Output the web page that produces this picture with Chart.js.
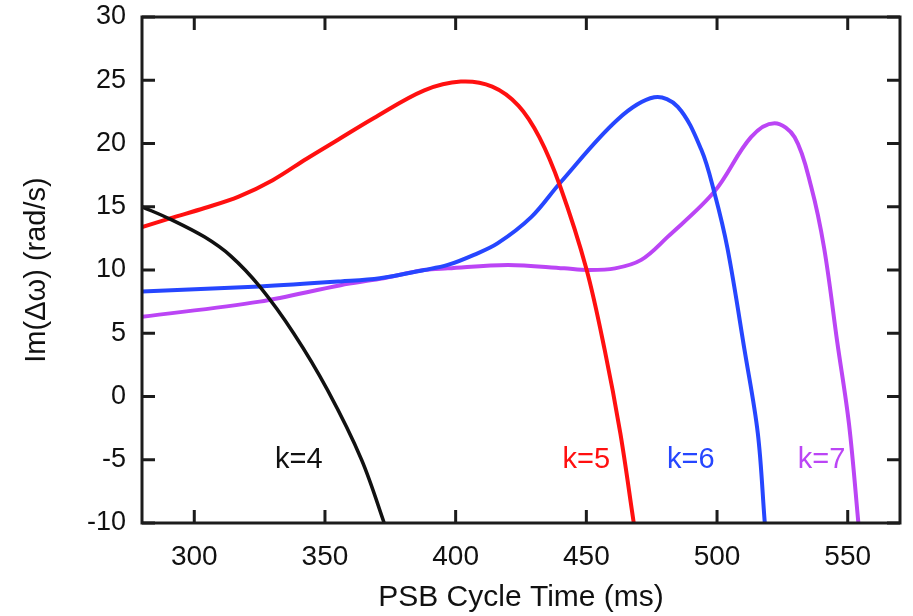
<!DOCTYPE html>
<html>
<head>
<meta charset="utf-8">
<script src="https://cdn.jsdelivr.net/npm/chart.js@4"></script>
<style>
  html, body { margin: 0; padding: 0; background: #fff; }
  canvas { display: block; }
</style>
</head>
<body>
<canvas id="growthChart" width="913" height="616"></canvas>
<script>
// PSB cycle time (ms) vs Im(dw) (rad/s), one curve per k
const k4Time = [280, 291, 304, 314, 325, 338, 351, 364, 373.5];
const k4Im   = [15.0, 14.0, 12.6, 11.1, 8.7, 5.0, 0.5, -5.0, -10.5];

const k5Time = [280, 291, 304, 317, 330, 343, 355, 368.6, 388, 402, 414, 424, 432, 440, 450, 457, 463, 468, 468.5];
const k5Im   = [13.4, 14.1, 14.9, 15.8, 17.1, 18.8, 20.3, 22.0, 24.2, 24.9, 24.5, 23.0, 20.5, 16.6, 10.1, 3.7, -2.9, -9.8, -10.5];

const k6Time = [280, 325, 356, 371, 388, 397, 407, 416, 429, 440, 462, 476, 485, 494, 499, 504, 510.5, 515.6, 518.2, 518.5];
const k6Im   = [8.3, 8.7, 9.1, 9.35, 10.0, 10.4, 11.2, 12.1, 14.2, 16.9, 21.9, 23.65, 22.9, 19.5, 16.1, 11.7, 3.7, -2.9, -9.8, -10.5];

const k7Time = [280, 325, 356, 371, 388, 397, 420, 441.5, 450.5, 461, 471, 481, 499, 513, 522, 529.7, 536, 541, 546, 550.5, 554.3];
const k7Im   = [6.3, 7.5, 8.8, 9.3, 10.0, 10.13, 10.4, 10.13, 10.0, 10.13, 10.8, 12.6, 16.2, 20.5, 21.6, 20.5, 16.6, 11.7, 4.3, -2.2, -10.5];

const xTicks = [300, 350, 400, 450, 500, 550];
const yTicks = [-10, -5, 0, 5, 10, 15, 20, 25, 30];

const curveNames = ['k=4', 'k=5', 'k=6', 'k=7'];
const curveLabelTime = [340, 450, 490, 540];
const curveLabelIm = -5;

const colors = ['#111111', '#ff1010', '#2646ff', '#bb45f5'];

const pairs = (xs, ys) => xs.map((x, i) => ({ x: x, y: ys[i] }));

const FONT = "'Liberation Sans', Arial, Helvetica, sans-serif";

// frame, inward ticks on all four sides, and k labels
const framePlugin = {
    id: 'frame',
    afterDraw(chart) {
        const ctx = chart.ctx;
        const a = chart.chartArea;
        const xs = chart.scales.x;
        const ys = chart.scales.y;
        const len = 13;
        ctx.save();
        ctx.strokeStyle = '#1c1c1c';
        ctx.lineWidth = 3;
        ctx.beginPath();
        xTicks.forEach(v => {
            const px = xs.getPixelForValue(v);
            ctx.moveTo(px, a.bottom); ctx.lineTo(px, a.bottom - len);
            ctx.moveTo(px, a.top); ctx.lineTo(px, a.top + len);
        });
        yTicks.forEach(v => {
            const py = ys.getPixelForValue(v);
            ctx.moveTo(a.left, py); ctx.lineTo(a.left + len, py);
            ctx.moveTo(a.right, py); ctx.lineTo(a.right - len, py);
        });
        ctx.stroke();
        ctx.strokeRect(a.left, a.top, a.right - a.left, a.bottom - a.top);

        ctx.font = '29px ' + FONT;
        ctx.textAlign = 'center';
        ctx.textBaseline = 'middle';
        curveNames.forEach((name, i) => {
            ctx.fillStyle = colors[i];
            ctx.fillText(name, xs.getPixelForValue(curveLabelTime[i]), ys.getPixelForValue(curveLabelIm));
        });
        ctx.restore();
    }
};

const makeSet = (label, xs, ys, i, w) => ({
    label: label,
    data: pairs(xs, ys),
    borderColor: colors[i],
    borderWidth: w,
    pointRadius: 0,
    fill: false,
    tension: 0.35
});

new Chart(document.getElementById('growthChart'), {
    type: 'line',
    data: {
        datasets: [
            makeSet('k=4', k4Time, k4Im, 0, 3.5),
            makeSet('k=5', k5Time, k5Im, 1, 4),
            makeSet('k=6', k6Time, k6Im, 2, 4),
            makeSet('k=7', k7Time, k7Im, 3, 4)
        ]
    },
    options: {
        responsive: false,
        animation: false,
        layout: { padding: { top: 17, right: 13, left: 0, bottom: 0 } },
        plugins: {
            legend: { display: false },
            tooltip: { enabled: false }
        },
        scales: {
            x: {
                type: 'linear',
                min: 280,
                max: 570,
                afterBuildTicks: s => { s.ticks = xTicks.map(v => ({ value: v })); },
                afterFit: s => { s.height = 93; s.paddingLeft = 0; s.paddingRight = 0; },
                grid: { display: false, drawTicks: false },
                border: { display: false },
                ticks: {
                    color: '#111',
                    font: { family: FONT, size: 28 },
                    padding: 17,
                    maxRotation: 0
                },
                title: {
                    display: true,
                    text: 'PSB Cycle Time (ms)',
                    color: '#111',
                    font: { family: FONT, size: 30 },
                    padding: { top: 0, bottom: 0 }
                }
            },
            y: {
                type: 'linear',
                min: -10,
                max: 30,
                afterBuildTicks: s => { s.ticks = yTicks.map(v => ({ value: v })); },
                afterFit: s => { s.width = 142; s.paddingTop = 0; s.paddingBottom = 0; },
                grid: { display: false, drawTicks: false },
                border: { display: false },
                ticks: {
                    color: '#111',
                    font: { family: FONT, size: 27 },
                    padding: 16
                },
                title: {
                    display: true,
                    text: 'Im(Δω) (rad/s)',
                    color: '#111',
                    font: { family: FONT, size: 29 },
                    padding: { top: 20, bottom: 0 }
                }
            }
        }
    },
    plugins: [framePlugin]
});
</script>
</body>
</html>
